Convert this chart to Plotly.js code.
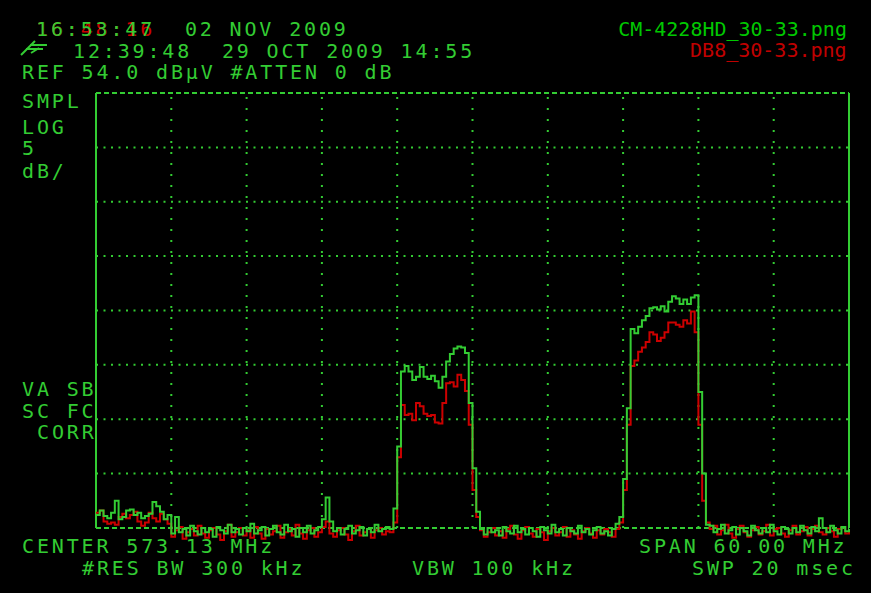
<!DOCTYPE html>
<html><head><meta charset="utf-8">
<script src="https://cdn.plot.ly/plotly-3.0.1.min.js"></script>
<style>
html,body{margin:0;padding:0;background:#000;}
.annotation-text{letter-spacing:2.85px;}
.annotation[data-index="0"] .annotation-text,.annotation[data-index="1"] .annotation-text{letter-spacing:0px;}
</style></head><body><div id="chart" style="width:871px;height:593px"></div>
<script>
// ---- data ----
const CENTER_MHZ = 573.13, SPAN_MHZ = 60, STEP_MHZ = 0.3;
const REF_DBUV = 54, DB_PER_DIV = 5, DIVS_Y = 8, DIVS_X = 10;

const greenTrace = [
15.2,15.6,15.1,14.9,15.4,16.5,14.8,15.0,15.6,15.7,15.2,15.4,14.9,15.1,15.3,16.4,16.0,15.5,14.8,15.2,
13.5,15.0,13.6,13.9,13.3,14.2,13.7,13.4,14.0,13.6,
13.9,13.2,14.1,13.8,13.5,14.3,13.6,13.9,13.4,14.0,
13.7,14.4,13.5,13.8,14.1,13.3,13.9,14.2,13.6,13.4,
14.3,13.7,13.9,13.2,14.0,13.6,14.2,13.5,13.8,14.1,
14.8,16.8,14.6,13.7,14.0,13.4,13.9,14.2,13.5,13.8,
14.1,13.3,13.9,13.6,14.3,13.7,13.9,14.1,
13.9,15.8,21.5,28.4,28.9,28.4,27.6,27.9,28.8,27.9,
27.7,28.0,27.5,26.9,27.9,29.3,30.0,30.5,30.7,30.6,
30.1,25.5,19.5,15.5,
13.9,13.4,14.0,13.6,13.8,13.3,14.1,13.7,
13.5,14.2,13.6,13.9,13.4,14.0,13.7,13.2,14.1,13.8,
13.5,14.3,13.6,13.9,13.3,14.0,13.7,13.5,14.2,13.6,
13.9,13.4,13.8,14.1,13.5,13.7,13.3,13.9,14.4,15.0,
18.5,25.0,32.3,31.9,32.5,33.1,33.5,34.2,34.3,34.1,
34.4,33.9,34.8,35.3,35.1,34.6,35.0,34.6,35.2,35.4,
26.5,19.0,14.3,
14.2,13.6,13.9,14.3,13.5,13.8,14.1,
13.4,14.0,13.7,13.3,14.2,13.8,13.5,14.0,13.6,14.3,
13.7,13.4,14.1,13.9,13.5,14.0,13.6,14.2,13.8,13.5,
14.1,13.7,14.9,14.0,13.6,14.2,13.8,13.5,14.1,13.7,
13.9];

const redTrace = [
15.4,15.6,14.6,14.4,14.5,14.3,15.0,15.3,14.9,15.2,15.5,14.6,14.2,14.5,15.4,14.9,14.6,15.3,14.8,14.4,
13.2,13.8,14.1,13.0,13.6,13.9,13.3,14.2,13.5,13.1,
13.8,14.0,13.4,12.9,13.7,14.3,13.2,13.6,14.0,13.3,
13.8,13.1,14.1,13.5,13.0,13.9,13.4,13.7,14.2,13.1,
13.6,13.9,13.3,14.3,13.5,13.0,13.8,14.0,13.2,13.6,
14.1,14.6,13.5,13.2,13.8,14.0,13.4,12.9,13.7,14.2,
13.3,13.6,13.9,13.1,13.8,14.0,13.4,13.7,
13.6,14.5,20.5,25.3,24.4,24.5,23.9,25.5,25.2,24.5,
24.3,24.4,23.7,23.6,25.5,27.3,27.4,27.0,28.1,27.6,
26.6,23.5,17.5,15.0,
13.8,13.2,13.6,14.0,13.3,13.7,13.1,13.9,
14.2,13.4,13.0,13.8,14.1,13.5,13.2,13.9,13.6,12.9,
13.7,14.0,13.3,13.6,14.1,13.2,13.8,13.4,13.0,13.7,
14.0,13.5,13.1,13.8,13.4,13.9,13.6,13.2,13.9,14.5,
17.5,23.5,28.9,29.4,30.2,30.6,31.1,32.0,31.8,31.2,
31.5,32.0,32.9,32.9,32.7,32.5,33.1,32.8,33.9,32.0,
23.5,16.5,14.5,
13.9,14.2,13.4,13.8,14.3,13.5,13.1,
13.9,14.2,13.6,13.2,13.8,14.1,13.4,13.7,14.3,13.3,
13.9,14.0,13.5,13.2,13.8,14.2,13.4,13.7,14.1,13.3,
13.9,14.2,13.6,13.4,14.0,13.7,13.2,13.9,14.1,13.5,
13.8];

const fileNames = ["CM-4228HD_30-33.png", "DB8_30-33.png"];
const headerLines = ["16:53:47  02 NOV 2009", "12:39:48  29 OCT 2009 14:55", "REF 54.0 dBμV #ATTEN 0 dB"];
const headerGhost = "16:48:16";
const sideLabels = ["SMPL", "LOG", "5", "dB/", "VA SB", "SC FC", "CORR"];
const footerLabels = ["CENTER 573.13 MHz", "SPAN 60.00 MHz", "#RES BW 300 kHz", "VBW 100 kHz", "SWP 20 msec"];

// ---- derived ----
const fStart = CENTER_MHZ - SPAN_MHZ / 2, fEnd = CENTER_MHZ + SPAN_MHZ / 2;
const freqs = greenTrace.map((_, i) => +(fStart + i * STEP_MHZ).toFixed(3));
const bottomDb = REF_DBUV - DB_PER_DIV * DIVS_Y;

const W = 871, H = 593, ML = 90, MR = 18, MT = 89, MB = 48;
const pxPerMHz = 753 / SPAN_MHZ, pxPerDb = 435 / (DB_PER_DIV * DIVS_Y);
const pw = W - ML - MR, ph = H - MT - MB;
const px = x => (x - ML) / pw;
const py = y => (H - MB - y) / ph;

const G = '#33cc33', R = '#cc0000';
const FONT = 'DejaVu Sans Mono, Liberation Mono, monospace';

const traces = [
  {x: freqs, y: redTrace, type: 'scatter', mode: 'lines', line: {color: R, width: 2, shape: 'hv'}, name: fileNames[1]},
  {x: freqs, y: greenTrace, type: 'scatter', mode: 'lines', line: {color: G, width: 2, shape: 'hv'}, name: fileNames[0]}
];

const shapes = [];
for (let k = 1; k < DIVS_Y; k++) {
  const yv = bottomDb + k * DB_PER_DIV;
  shapes.push({type: 'line', xref: 'x', yref: 'y', x0: fStart, x1: fEnd, y0: yv, y1: yv, layer: 'below',
    line: {color: G, width: 2, dash: '2px,5.5px'}});
}
for (const yv of [bottomDb, REF_DBUV]) {
  shapes.push({type: 'line', xref: 'x', yref: 'y', x0: fStart, x1: fEnd, y0: yv, y1: yv, layer: 'below',
    line: {color: G, width: 2, dash: '5px,3px'}});
}
for (let k = 1; k < DIVS_X; k++) {
  const xv = fStart + k * SPAN_MHZ / DIVS_X;
  shapes.push({type: 'line', xref: 'x', yref: 'y', x0: xv, x1: xv, y0: bottomDb, y1: REF_DBUV, layer: 'below',
    line: {color: G, width: 2, dash: '2px,9px'}});
}
for (const xv of [fStart, fEnd]) {
  shapes.push({type: 'line', xref: 'x', yref: 'y', x0: xv, x1: xv, y0: bottomDb, y1: REF_DBUV, layer: 'below',
    line: {color: G, width: 2}});
}
// small pen icon
const P = (x, y) => px(x).toFixed(4) + ',' + py(y).toFixed(4);
shapes.push({type: 'path', xref: 'paper', yref: 'paper', line: {color: G, width: 2},
  path: 'M' + P(21, 55) + ' L' + P(35, 41) + ' M' + P(30, 45) + ' L' + P(47, 45) + ' M' + P(26, 49) + ' L' + P(43, 49) + ' M' + P(31, 53) + ' L' + P(39, 48)});

function ann(text, x, yc, opts) {
  return Object.assign({text: text, xref: 'paper', yref: 'paper', x: px(x - 1.5), y: py(yc), xanchor: 'left', yanchor: 'middle',
    align: 'left', showarrow: false, borderpad: 0, font: {family: FONT, size: 20, color: G}}, opts || {});
}

const annotations = [
  ann(fileNames[0], 849, 29, {xanchor: 'right', align: 'right', font: {family: FONT, size: 20, color: '#00c800'}}),
  ann(fileNames[1], 849, 50, {xanchor: 'right', align: 'right', font: {family: FONT, size: 20, color: '#c00000'}}),
  ann(headerGhost, 36, 28.5, {font: {family: FONT, size: 20, color: R}}),
  ann(headerLines[0], 36, 28.5),
  ann(headerLines[1], 73, 50.5),
  ann(headerLines[2], 22, 71.5),
  ann(sideLabels[0], 22, 100.5),
  ann(sideLabels[1], 22, 126.5),
  ann(sideLabels[2], 22, 148),
  ann(sideLabels[3], 22, 170.5),
  ann(sideLabels[4], 22, 388.5),
  ann(sideLabels[5], 22, 410.5),
  ann(sideLabels[6], 37, 431.5),
  ann(footerLabels[0], 22, 545.5),
  ann(footerLabels[1], 639, 545.5),
  ann(footerLabels[2], 82, 567.5),
  ann(footerLabels[3], 412, 567.5),
  ann(footerLabels[4], 692, 567.5)
];

const layout = {
  width: W, height: H,
  margin: {l: ML, r: MR, t: MT, b: MB, pad: 0},
  paper_bgcolor: '#000', plot_bgcolor: '#000',
  showlegend: false, hovermode: false,
  xaxis: {range: [fStart - 6 / pxPerMHz, fEnd + 4 / pxPerMHz], showgrid: false, zeroline: false, showticklabels: false, showline: false, ticks: ''},
  yaxis: {range: [bottomDb - 17 / pxPerDb, REF_DBUV + 4 / pxPerDb], showgrid: false, zeroline: false, showticklabels: false, showline: false, ticks: ''},
  shapes: shapes,
  annotations: annotations
};

Plotly.newPlot('chart', traces, layout, {staticPlot: true, displayModeBar: false});
</script></body></html>
